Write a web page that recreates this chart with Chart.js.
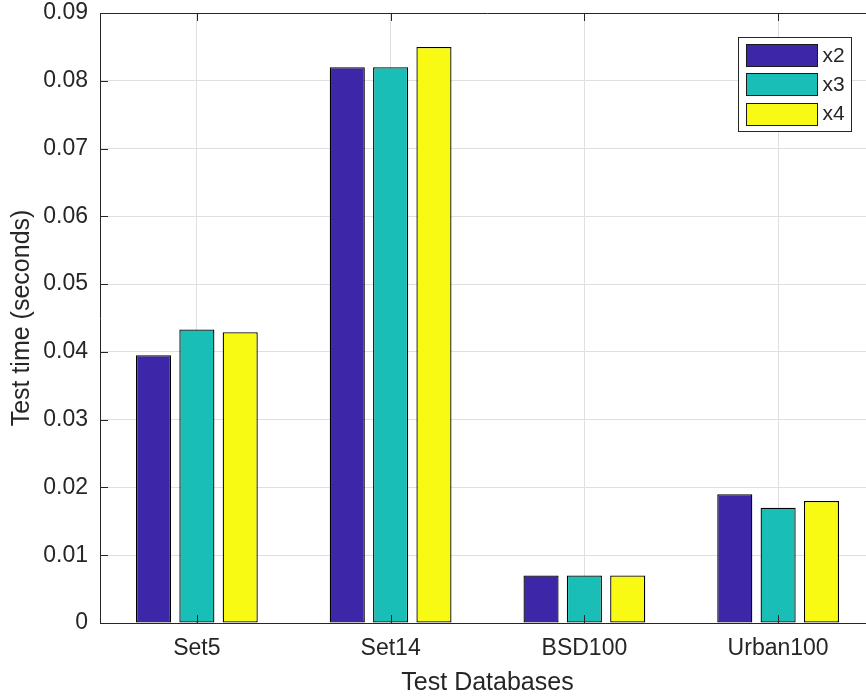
<!DOCTYPE html>
<html>
<head>
<meta charset="utf-8">
<script src="https://cdn.jsdelivr.net/npm/chart.js@4/dist/chart.umd.min.js"></script>
<style>
  html, body { margin: 0; padding: 0; background: #ffffff; }
  #clip { width: 866px; height: 698px; overflow: hidden; position: relative; }
  #wrap { width: 880px; height: 698px; position: absolute; left: 0; top: 0; }
</style>
</head>
<body>
<div id="clip"><div id="wrap"><canvas id="c"></canvas></div></div>
<script>
// ---- data ----
const categories = ['Set5', 'Set14', 'BSD100', 'Urban100'];
const seriesNames = ['x2', 'x3', 'x4'];
const x2Values = [0.0395, 0.082, 0.007, 0.019];
const x3Values = [0.0433, 0.082, 0.007, 0.017];
const x4Values = [0.0429, 0.085, 0.007, 0.018];
const yTickLabels = ['0', '0.01', '0.02', '0.03', '0.04', '0.05', '0.06', '0.07', '0.08', '0.09'];
const xTitle = 'Test Databases';
const yTitle = 'Test time (seconds)';

// ---- styles ----
const seriesColors = ['#3e26a8', '#19bfb7', '#f9fa14'];
const axisColor = '#262626';
const gridColor = '#dfdfdf';
const fontFamily = '"Liberation Sans", Arial, Helvetica, sans-serif';

const valuesList = [x2Values, x3Values, x4Values];
const datasets = seriesNames.map((name, i) => ({
  label: name,
  data: valuesList[i],
  backgroundColor: seriesColors[i],
  borderColor: '#000000',
  borderWidth: 1.3,
  borderSkipped: false,
  categoryPercentage: 0.671,
  barPercentage: 0.81
}));

const framePlugin = {
  id: 'framePlugin',
  afterDraw(chart) {
    const ctx = chart.ctx;
    const a = chart.chartArea;
    const xs = chart.scales.x, ys = chart.scales.y;
    ctx.save();
    ctx.strokeStyle = axisColor;
    ctx.lineWidth = 1;
    // top frame line
    ctx.beginPath();
    ctx.moveTo(a.left, Math.round(a.top) + 0.5);
    ctx.lineTo(a.right, Math.round(a.top) + 0.5);
    ctx.stroke();
    // inward ticks on y axis
    ys.ticks.forEach(t => {
      const y = Math.round(ys.getPixelForValue(t.value)) + 0.5;
      ctx.beginPath();
      ctx.moveTo(a.left, y);
      ctx.lineTo(a.left + 8, y);
      ctx.stroke();
    });
    // inward ticks on x axis (bottom and top)
    categories.forEach((c, i) => {
      const x = Math.round(xs.getPixelForValue(i)) + 0.5;
      ctx.beginPath();
      ctx.moveTo(x, a.bottom);
      ctx.lineTo(x, a.bottom - 8);
      ctx.moveTo(x, a.top);
      ctx.lineTo(x, a.top + 8);
      ctx.stroke();
    });
    // legend
    const lw = 113, lh = 94;
    const lx = Math.round(a.right - 24 - lw) + 0.5;
    const ly = Math.round(a.top + 24) + 0.5;
    ctx.fillStyle = '#ffffff';
    ctx.fillRect(lx, ly, lw, lh);
    ctx.strokeStyle = axisColor;
    ctx.strokeRect(lx, ly, lw, lh);
    ctx.font = '21px ' + fontFamily;
    ctx.textBaseline = 'middle';
    ctx.textAlign = 'left';
    chart.data.datasets.forEach((ds, i) => {
      const sy = ly + 6.5 + i * 29.3;
      const sx = lx + 8;
      ctx.fillStyle = ds.backgroundColor;
      ctx.fillRect(sx, Math.round(sy) + 0.5, 71, 22);
      ctx.strokeStyle = '#1a1a1a';
      ctx.strokeRect(sx, Math.round(sy) + 0.5, 71, 22);
      ctx.fillStyle = axisColor;
      ctx.fillText(ds.label, sx + 76, sy + 12);
    });
    ctx.restore();
  }
};

new Chart(document.getElementById('c'), {
  type: 'bar',
  data: { labels: categories, datasets: datasets },
  options: {
    responsive: true,
    maintainAspectRatio: false,
    animation: false,
    layout: { padding: { left: 7, right: 5, top: 0, bottom: 0 } },
    plugins: {
      legend: { display: false },
      tooltip: { enabled: false }
    },
    scales: {
      x: {
        offset: true,
        grid: { display: true, offset: false, color: gridColor, lineWidth: 1, drawTicks: false },
        border: { display: true, color: axisColor, width: 1 },
        ticks: { color: axisColor, font: { family: fontFamily, size: 23 }, padding: 12, maxRotation: 0 },
        title: { display: true, text: xTitle, color: axisColor, font: { family: fontFamily, size: 25 }, padding: { top: 0, bottom: 0 } },
        afterFit(scale) { scale.height = 75; }
      },
      y: {
        min: 0,
        max: 0.09,
        grid: { color: gridColor, lineWidth: 1, drawTicks: false },
        border: { display: true, color: axisColor, width: 1 },
        ticks: {
          stepSize: 0.01,
          color: axisColor,
          font: { family: fontFamily, size: 23 },
          padding: 12,
          callback: (v, i) => yTickLabels[i]
        },
        title: { display: true, text: yTitle, color: axisColor, font: { family: fontFamily, size: 25 }, padding: { top: 0, bottom: 0 } },
        afterFit(scale) { scale.width = 93; scale.paddingTop = 13; scale.paddingBottom = 0; }
      }
    }
  },
  plugins: [framePlugin]
});
</script>
</body>
</html>
